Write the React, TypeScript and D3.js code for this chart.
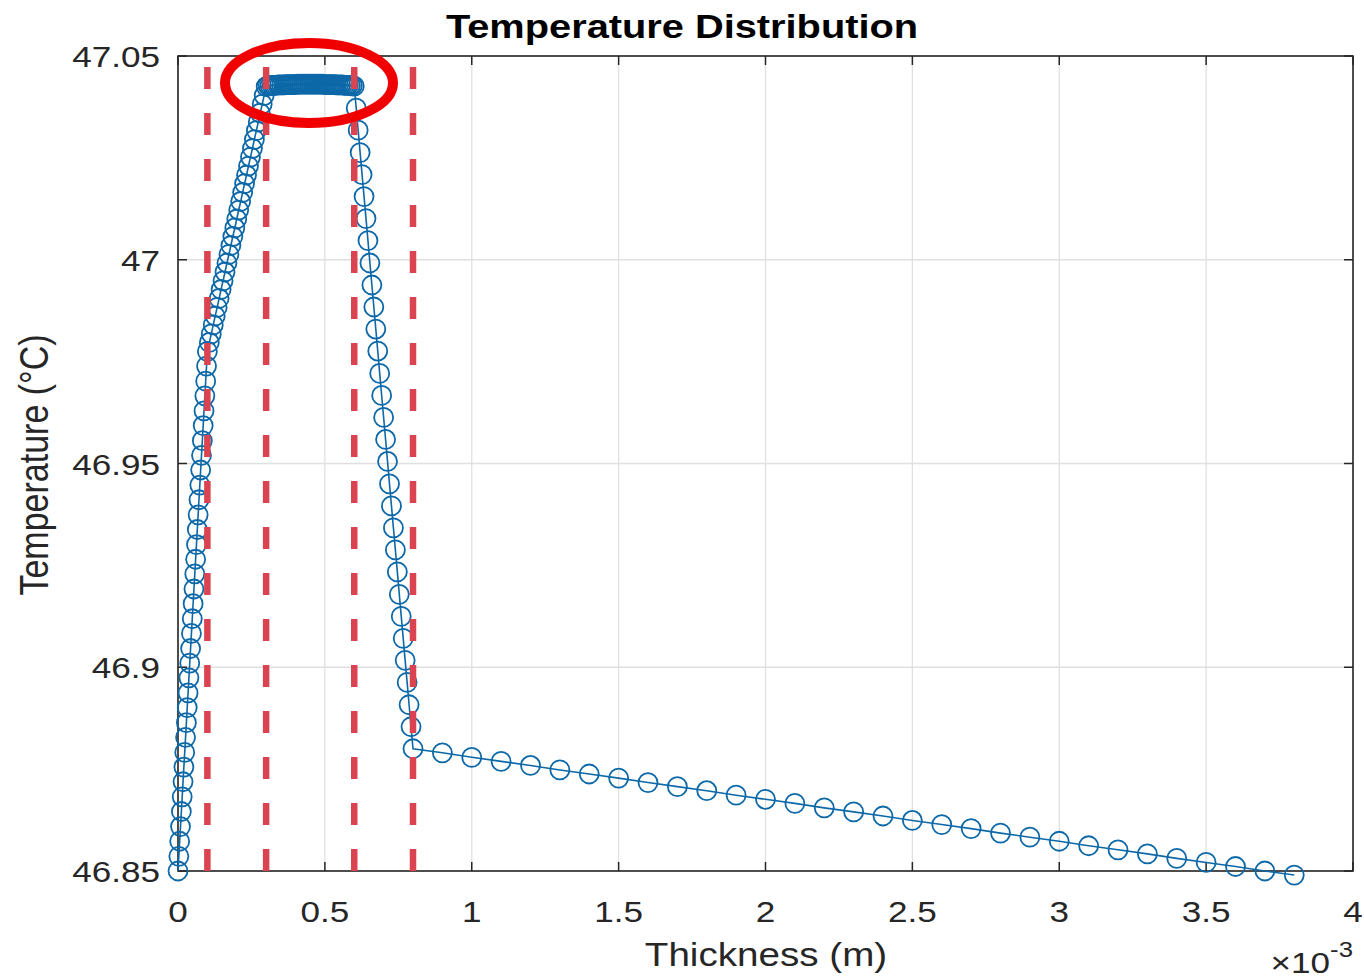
import React from 'react';
import * as d3 from 'd3';

// Layer interfaces (m) of the mesh
const layerBounds = [0, 0.0001, 0.0003, 0.0006, 0.0008, 0.0038];
const interfaceX = [0.0001, 0.0003, 0.0006, 0.0008];

// Temperatures (°C) read per layer (layer 1 includes x = 0)
const layer1Temp = [
  46.85, 46.8536, 46.8573, 46.8609, 46.8646, 46.8682, 46.8719, 46.8755, 46.8791, 46.8828,
  46.8864, 46.8901, 46.8937, 46.8974, 46.901, 46.9046, 46.9083, 46.9119, 46.9156, 46.9192,
  46.9229, 46.9265, 46.9301, 46.9338, 46.9374, 46.9411, 46.9447, 46.9484, 46.952, 46.9556,
  46.9593, 46.9629, 46.9666, 46.9702, 46.9739, 46.9775,
];
const layer2Temp = [
  46.9797, 46.9818, 46.984, 46.9862, 46.9883, 46.9905, 46.9927, 46.9948, 46.997, 46.9992,
  47.0013, 47.0035, 47.0057, 47.0078, 47.01, 47.0122, 47.0143, 47.0165, 47.0187, 47.0208,
  47.023, 47.0252, 47.0273, 47.0295, 47.0317, 47.0338, 47.036, 47.0382, 47.0403, 47.0425,
];
const layer3Temp = [
  47.0427, 47.0427, 47.0428, 47.0428, 47.0428, 47.0429, 47.0429, 47.0429, 47.0429, 47.043,
  47.043, 47.043, 47.043, 47.043, 47.043, 47.0431, 47.0431, 47.0431, 47.0431, 47.0431,
  47.0431, 47.0431, 47.0431, 47.0431, 47.0431, 47.0431, 47.0431, 47.0431, 47.0431, 47.043,
  47.043, 47.043, 47.043, 47.043, 47.043, 47.0429, 47.0429, 47.0429, 47.0429, 47.0428,
  47.0428, 47.0428, 47.0427, 47.0427, 47.0426,
];
const layer4Temp = [
  47.0372, 47.0318, 47.0263, 47.0209, 47.0155, 47.0101, 47.0047, 46.9992, 46.9938, 46.9884,
  46.983, 46.9776, 46.9721, 46.9667, 46.9613, 46.9559, 46.9505, 46.945, 46.9396, 46.9342,
  46.9288, 46.9234, 46.9179, 46.9125, 46.9071, 46.9017, 46.8963, 46.8908, 46.8854, 46.88,
];
const layer5Temp = [
  46.879, 46.8779, 46.8769, 46.8759, 46.8748, 46.8738, 46.8728, 46.8717, 46.8707, 46.8697,
  46.8686, 46.8676, 46.8666, 46.8655, 46.8645, 46.8635, 46.8624, 46.8614, 46.8604, 46.8593,
  46.8583, 46.8573, 46.8562, 46.8552, 46.8542, 46.8531, 46.8521, 46.8511, 46.85, 46.849,
];

const xTicks = [0, 0.0005, 0.001, 0.0015, 0.002, 0.0025, 0.003, 0.0035, 0.004];
const xTickLabels = ['0', '0.5', '1', '1.5', '2', '2.5', '3', '3.5', '4'];
const yTicks = [46.85, 46.9, 46.95, 47, 47.05];
const yTickLabels = ['46.85', '46.9', '46.95', '47', '47.05'];

const W = 1364;
const H = 980;
const L = 178, R = 1353, T = 56, B = 871;
const SX = 1.17;
const FONT = '"Liberation Sans", Arial, Helvetica, sans-serif';

function buildPoints() {
  const layers = [layer1Temp, layer2Temp, layer3Temp, layer4Temp, layer5Temp];
  const pts: { x: number; t: number }[] = [];
  layers.forEach((temps, i) => {
    const a = layerBounds[i];
    const b = layerBounds[i + 1];
    const n = temps.length;
    temps.forEach((t, k) => {
      const x = i === 0 ? a + (k * (b - a)) / (n - 1) : a + ((k + 1) * (b - a)) / n;
      pts.push({ x, t });
    });
  });
  return pts;
}

function Txt(props: {
  x: number; y: number; anchor?: string; size: number; weight?: string | number;
  rotate?: boolean; fill?: string; children: React.ReactNode;
}) {
  const { x, y, anchor = 'middle', size, weight = 'normal', rotate, fill = '#262626', children } = props;
  return (
    <text
      transform={`translate(${x},${y}) scale(${SX},1)${rotate ? ' rotate(-90)' : ''}`}
      textAnchor={anchor}
      fontSize={size}
      fontWeight={weight}
      fontFamily={FONT}
      fill={fill}
    >
      {children}
    </text>
  );
}

export default function App() {
  const xScale = d3.scaleLinear().domain([0, 0.004]).range([L, R]);
  const yScale = d3.scaleLinear().domain([46.85, 47.05]).range([B, T]);
  const pts = buildPoints();
  const line = d3
    .line<{ x: number; t: number }>()
    .x((d) => xScale(d.x))
    .y((d) => yScale(d.t));
  const blue = '#0d68a8';
  const tickLen = 9;

  return (
    <svg
      width={W}
      height={H}
      style={{ position: 'fixed', left: 0, top: 0, background: '#fff' }}
    >
      <rect x={0} y={0} width={W} height={H} fill="#fff" />
      {/* grid */}
      {xTicks.map((v, i) => (
        <line key={'gx' + i} x1={xScale(v)} x2={xScale(v)} y1={T} y2={B} stroke="#e0e0e0" strokeWidth={1.3} />
      ))}
      {yTicks.map((v, i) => (
        <line key={'gy' + i} x1={L} x2={R} y1={yScale(v)} y2={yScale(v)} stroke="#e0e0e0" strokeWidth={1.3} />
      ))}
      {/* ticks */}
      {xTicks.map((v, i) => (
        <g key={'tx' + i}>
          <line x1={xScale(v)} x2={xScale(v)} y1={B} y2={B - tickLen} stroke="#262626" strokeWidth={1.5} />
          <line x1={xScale(v)} x2={xScale(v)} y1={T} y2={T + tickLen} stroke="#262626" strokeWidth={1.5} />
        </g>
      ))}
      {yTicks.map((v, i) => (
        <g key={'ty' + i}>
          <line x1={L} x2={L + tickLen} y1={yScale(v)} y2={yScale(v)} stroke="#262626" strokeWidth={1.5} />
          <line x1={R} x2={R - tickLen} y1={yScale(v)} y2={yScale(v)} stroke="#262626" strokeWidth={1.5} />
        </g>
      ))}
      {/* box */}
      <rect x={L} y={T} width={R - L} height={B - T} fill="none" stroke="#262626" strokeWidth={1.6} />

      {/* data */}
      <path d={line(pts) || ''} fill="none" stroke={blue} strokeWidth={1.6} />
      {pts.map((p, i) => (
        <circle key={'c' + i} cx={xScale(p.x)} cy={yScale(p.t)} r={9.5} fill="none" stroke={blue} strokeWidth={1.8} />
      ))}

      {/* interface lines */}
      {interfaceX.map((v, i) => (
        <line
          key={'ix' + i}
          x1={xScale(v)}
          x2={xScale(v)}
          y1={yScale(46.85)}
          y2={yScale(47.05)}
          stroke="#d94450"
          strokeWidth={6.5}
          strokeDasharray="22,24"
        />
      ))}

      {/* annotation ellipse */}
      <ellipse cx={309} cy={83} rx={84} ry={40} fill="none" stroke="#f00000" strokeWidth={10} />

      {/* tick labels */}
      {xTicks.map((v, i) => (
        <Txt key={'lx' + i} x={xScale(v)} y={922} size={30}>{xTickLabels[i]}</Txt>
      ))}
      {yTicks.map((v, i) => (
        <Txt key={'ly' + i} x={160} y={yScale(v) + 11} size={30} anchor="end">{yTickLabels[i]}</Txt>
      ))}

      {/* exponent */}
      <Txt x={1353} y={973} size={30} anchor="end">
        <tspan>×10</tspan>
        <tspan fontSize={22} dy={-16}>-3</tspan>
      </Txt>

      {/* labels */}
      <Txt x={766} y={966} size={33}>Thickness (m)</Txt>
      <Txt x={48} y={465} size={34} rotate>Temperature (°C)</Txt>
      <Txt x={682} y={38} size={34} weight="bold" fill="#000">Temperature Distribution</Txt>
    </svg>
  );
}
